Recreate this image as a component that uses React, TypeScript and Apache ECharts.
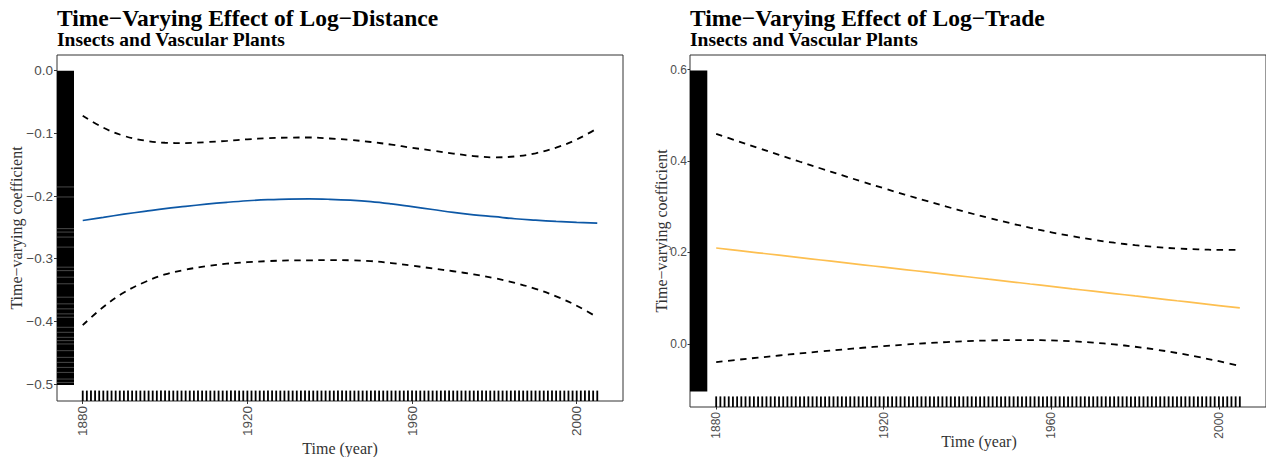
import React, { useEffect, useRef } from "react";
import * as echarts from "echarts";

const leftTitle = "Time−Varying Effect of Log−Distance";
const rightTitle = "Time−Varying Effect of Log−Trade";
const subTitle = "Insects and Vascular Plants";
const yTitle = "Time−varying coefficient";
const xTitle = "Time (year)";

const years = [1880, 1885, 1890, 1895, 1900, 1905, 1910, 1915, 1920, 1925, 1930, 1935, 1940, 1945, 1950, 1955, 1960, 1965, 1970, 1975, 1980, 1985, 1990, 1995, 2000, 2005];

const distEst = [-0.239, -0.234, -0.229, -0.2245, -0.22, -0.2165, -0.213, -0.21, -0.2075, -0.2058, -0.2048, -0.2046, -0.2052, -0.2065, -0.2088, -0.2125, -0.217, -0.2215, -0.2262, -0.23, -0.233, -0.2362, -0.2385, -0.2405, -0.242, -0.2431];
const distUpper = [-0.072, -0.091, -0.104, -0.1115, -0.115, -0.1155, -0.114, -0.112, -0.1095, -0.1078, -0.1068, -0.1066, -0.1082, -0.1105, -0.1138, -0.118, -0.123, -0.1275, -0.1322, -0.1362, -0.1383, -0.1368, -0.1318, -0.1228, -0.1098, -0.092];
const distLower = [-0.406, -0.377, -0.354, -0.3375, -0.325, -0.3175, -0.312, -0.308, -0.3055, -0.3038, -0.3028, -0.3026, -0.3022, -0.3025, -0.3038, -0.307, -0.311, -0.3155, -0.32, -0.325, -0.331, -0.3385, -0.348, -0.36, -0.375, -0.3934];

const tradeEst = [0.2098, 0.2046, 0.1993, 0.1941, 0.1888, 0.1836, 0.1783, 0.1731, 0.1678, 0.1626, 0.1574, 0.1521, 0.1469, 0.1416, 0.1364, 0.1311, 0.1259, 0.1206, 0.1154, 0.1102, 0.1049, 0.0997, 0.0944, 0.0892, 0.0839, 0.0787];
const tradeUpper = [0.4594, 0.444, 0.4286, 0.4135, 0.3985, 0.3837, 0.369, 0.3546, 0.3405, 0.3267, 0.3133, 0.3002, 0.2877, 0.2757, 0.2645, 0.2539, 0.2442, 0.2355, 0.2279, 0.2214, 0.216, 0.2118, 0.2087, 0.2068, 0.2057, 0.2056];
const tradeLower = [-0.0398, -0.0348, -0.03, -0.0253, -0.0209, -0.0165, -0.0124, -0.0084, -0.0049, -0.0015, 0.0015, 0.004, 0.0061, 0.0075, 0.0083, 0.0083, 0.0076, 0.0057, 0.0029, -0.001, -0.0062, -0.0124, -0.0199, -0.0284, -0.0379, -0.0482];

const rugYears = [
  1880, 1881, 1882, 1883, 1884, 1885, 1886, 1887, 1888, 1889, 1890, 1891, 1892, 1893, 1894, 1895, 1896, 1897, 1898, 1899,
  1900, 1901, 1902, 1903, 1904, 1905, 1906, 1907, 1908, 1909, 1910, 1911, 1912, 1913, 1914, 1915, 1916, 1917, 1918, 1919,
  1920, 1921, 1922, 1923, 1924, 1925, 1926, 1927, 1928, 1929, 1930, 1931, 1932, 1933, 1934, 1935, 1936, 1937, 1938, 1939,
  1940, 1941, 1942, 1943, 1944, 1945, 1946, 1947, 1948, 1949, 1950, 1951, 1952, 1953, 1954, 1955, 1956, 1957, 1958, 1959,
  1960, 1961, 1962, 1963, 1964, 1965, 1966, 1967, 1968, 1969, 1970, 1971, 1972, 1973, 1974, 1975, 1976, 1977, 1978, 1979,
  1980, 1981, 1982, 1983, 1984, 1985, 1986, 1987, 1988, 1989, 1990, 1991, 1992, 1993, 1994, 1995, 1996, 1997, 1998, 1999,
  2000, 2001, 2002, 2003, 2004, 2005,
];

// y-rug of left panel: dense band plus lighter stripes where observations are sparse
const distRugRange = [-0.5016, 0.0];
const distRugGaps = [-0.1855, -0.2015, -0.252, -0.2575, -0.2655, -0.2815, -0.3135, -0.319, -0.3295, -0.34, -0.3614, -0.372, -0.38, -0.388, -0.3934, -0.4094, -0.4174, -0.4254, -0.4307, -0.436, -0.4467, -0.4574, -0.4654, -0.4734, -0.4814, -0.492, -0.4974];
const tradeRugRange = [-0.104, 0.598];

const xTicks = [1880, 1920, 1960, 2000];
const distYTicks = [-0.5, -0.4, -0.3, -0.2, -0.1, 0.0];
const tradeYTicks = [0.0, 0.2, 0.4, 0.6];

const X_MIN = 1873.75;
const X_MAX = 2011.25;
const DIST_Y = [-0.527, 0.025];
const TRADE_Y = [-0.138, 0.632];

const SERIF = "'Liberation Serif', 'Times New Roman', serif";
const SANS = "'Liberation Sans', Arial, sans-serif";

const fmt = (v: number) => {
  const s = Math.abs(v).toFixed(1);
  return v < -1e-9 ? "−" + s : s;
};

function pairs(xs: number[], ys: number[]) {
  return xs.map((x, i) => [x, ys[i]]);
}

export default function App() {
  const ref = useRef<HTMLDivElement>(null);
  useEffect(() => {
    if (!ref.current) return;
    const chart = echarts.init(ref.current, null, { renderer: "svg" });

    const grids = [
      { left: 57, top: 55, width: 566, height: 346, rugW: 17, rugH: 10.4, yr: DIST_Y, yt: distYTicks, fs: 13.5, tick: 3 },
      { left: 690, top: 55, width: 578, height: 352, rugW: 17.3, rugH: 10.6, yr: TRADE_Y, yt: tradeYTicks, fs: 12, tick: 2.5 },
    ];

    const solid = (gi: number, data: number[][], color: string) => ({
      type: "line",
      xAxisIndex: gi,
      yAxisIndex: gi,
      data,
      smooth: 0.4,
      showSymbol: false,
      silent: true,
      z: 5,
      lineStyle: { color, width: 1.7 },
    });
    const dashed = (gi: number, data: number[][]) => ({
      type: "line",
      xAxisIndex: gi,
      yAxisIndex: gi,
      data,
      smooth: 0.4,
      showSymbol: false,
      silent: true,
      z: 5,
      lineStyle: { color: "#000", width: 1.8, type: [6.5, 5.5] },
    });

    const yBand = (gi: number, range: number[], color: string) => ({
      type: "custom",
      xAxisIndex: gi,
      yAxisIndex: gi,
      silent: true,
      z: 2,
      data: [[range[0], range[1]]],
      renderItem: (_p: any, api: any) => {
        const lo = api.coord([X_MIN, api.value(0)]);
        const hi = api.coord([X_MIN, api.value(1)]);
        return {
          type: "rect",
          shape: { x: lo[0], y: hi[1], width: grids[gi].rugW, height: lo[1] - hi[1] },
          style: { fill: color },
        };
      },
    });
    const yTicksRug = (gi: number, vals: number[], color: string) => ({
      type: "custom",
      xAxisIndex: gi,
      yAxisIndex: gi,
      silent: true,
      z: 3,
      data: vals.map((v) => [X_MIN, v]),
      renderItem: (_p: any, api: any) => {
        const p = api.coord([X_MIN, api.value(1)]);
        return {
          type: "line",
          shape: { x1: p[0], y1: p[1], x2: p[0] + grids[gi].rugW, y2: p[1] },
          style: { stroke: color, lineWidth: 0.8 },
        };
      },
    });
    const xRug = (gi: number) => ({
      type: "custom",
      xAxisIndex: gi,
      yAxisIndex: gi,
      silent: true,
      z: 3,
      data: rugYears.map((y) => [y, grids[gi].yr[0]]),
      renderItem: (_p: any, api: any) => {
        const p = api.coord([api.value(0), grids[gi].yr[0]]);
        return {
          type: "line",
          shape: { x1: p[0], y1: p[1], x2: p[0], y2: p[1] - grids[gi].rugH },
          style: { stroke: "#000", lineWidth: 1.8 },
        };
      },
    });

    const text = (t: string, x: number, y: number, font: string, color: string, rot = 0, align = "left") => ({
      type: "text",
      x,
      y,
      rotation: rot,
      silent: true,
      style: { text: t, font, fill: color, textAlign: align, textVerticalAlign: "middle" },
    });

    chart.setOption({
      animation: false,
      backgroundColor: "#fff",
      grid: grids.map((g) => ({
        left: g.left,
        top: g.top,
        width: g.width,
        height: g.height,
        show: true,
        borderColor: "#333",
        borderWidth: 1,
        backgroundColor: "transparent",
        containLabel: false,
      })),
      xAxis: grids.map((g, i) => ({
        type: "value",
        gridIndex: i,
        min: X_MIN,
        max: X_MAX,
        position: "bottom",
        axisLine: { show: false, onZero: false },
        splitLine: { show: false },
        axisTick: { show: true, customValues: xTicks, length: g.tick, lineStyle: { color: "#333" } },
        axisLabel: {
          customValues: xTicks,
          rotate: 90,
          margin: 5,
          fontSize: g.fs,
          fontFamily: SANS,
          color: "#4d4d4d",
          formatter: (v: number) => String(Math.round(v)),
        },
      })),
      yAxis: grids.map((g, i) => ({
        type: "value",
        gridIndex: i,
        min: g.yr[0],
        max: g.yr[1],
        position: "left",
        axisLine: { show: false, onZero: false },
        splitLine: { show: false },
        axisTick: { show: true, customValues: g.yt, length: g.tick, lineStyle: { color: "#333" } },
        axisLabel: {
          customValues: g.yt,
          margin: i === 0 ? 4 : 3,
          fontSize: g.fs,
          fontFamily: SANS,
          color: "#4d4d4d",
          formatter: (v: number) => fmt(v),
        },
      })),
      series: [
        yBand(0, distRugRange, "#000"),
        yTicksRug(0, distRugGaps, "#5a5a5a"),
        xRug(0),
        dashed(0, pairs(years, distUpper)),
        dashed(0, pairs(years, distLower)),
        solid(0, pairs(years, distEst), "#0d58a6"),
        yBand(1, tradeRugRange, "#000"),
        xRug(1),
        dashed(1, pairs(years, tradeUpper)),
        dashed(1, pairs(years, tradeLower)),
        solid(1, pairs(years, tradeEst), "#fdbf50"),
      ],
      graphic: [
        text(leftTitle, 57, 18.2, `bold 23.5px ${SERIF}`, "#000"),
        text(subTitle, 57, 39.4, `bold 19.5px ${SERIF}`, "#000"),
        text(rightTitle, 690, 18.2, `bold 23.5px ${SERIF}`, "#000"),
        text(subTitle, 690, 39.4, `bold 19.5px ${SERIF}`, "#000"),
        text(yTitle, 16, 228, `16px ${SERIF}`, "#333", Math.PI / 2, "center"),
        text(yTitle, 661, 231, `16px ${SERIF}`, "#333", Math.PI / 2, "center"),
        text(xTitle, 340, 448, `16px ${SERIF}`, "#333", 0, "center"),
        text(xTitle, 979, 441, `16px ${SERIF}`, "#333", 0, "center"),
      ],
    });
    return () => chart.dispose();
  }, []);
  return <div ref={ref} style={{ position: "absolute", left: 0, top: 0, width: 1266, height: 457 }} />;
}
